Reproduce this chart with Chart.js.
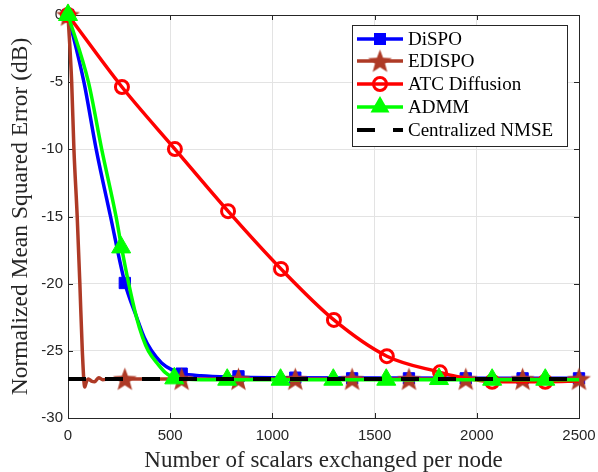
<!DOCTYPE html>
<html>
<head>
<meta charset="utf-8">
<script src="https://cdn.jsdelivr.net/npm/chart.js@4.4.0/dist/chart.umd.min.js"></script>
<style>
html, body { margin: 0; padding: 0; background: #fff; }
</style>
</head>
<body>
<canvas id="myChart" width="598" height="472"></canvas>
<script>
var series_names = ['DiSPO', 'EDISPO', 'ATC Diffusion', 'ADMM', 'Centralized NMSE'];

// DiSPO (blue, squares)
var dispo_x = [0, 78, 138, 208, 279, 336, 373, 409, 458, 507, 560, 650, 800, 1000, 2500];
var dispo_y = [0, -5, -10, -15, -20, -22.5, -24, -25, -25.9, -26.4, -26.7, -26.85, -26.95, -27.0, -27.05];
var dispo_mark_x = [0, 278, 556, 834, 1112, 1390, 1668, 1946, 2224, 2500];
var dispo_mark_y = [0, -19.95, -26.7, -26.9, -27.0, -27.05, -27.05, -27.05, -27.05, -27.05];

// EDISPO (brown, stars)
var edispo_x = [0, 18, 29, 45, 58, 70, 82, 90, 100, 115, 130, 150, 170, 200, 2500];
var edispo_y = [0, -5, -10, -15, -20, -25, -27.7, -27.3, -27.1, -27.25, -27.3, -27.0, -27.15, -27.1, -27.1];
var edispo_mark_x = [0, 278, 556, 834, 1112, 1390, 1668, 1946, 2224, 2500];
var edispo_mark_y = [0, -27.1, -27.1, -27.1, -27.1, -27.1, -27.1, -27.1, -27.1, -27.1];

// ATC Diffusion (red, circles)
var atc_x = [0, 264, 523, 783, 1042, 1301, 1560, 1820, 1900, 2075, 2335, 2500];
var atc_y = [0, -5.36, -9.98, -14.6, -18.9, -22.7, -25.4, -26.6, -26.9, -27.3, -27.3, -27.25];
var atc_mark_x = [0, 264, 523, 783, 1042, 1301, 1560, 1820, 2075, 2335];
var atc_mark_y = [0, -5.36, -9.98, -14.6, -18.9, -22.7, -25.4, -26.6, -27.3, -27.3];

// ADMM (green, triangles)
var admm_x = [0, 100, 165, 235, 262, 297, 335, 365, 393, 440, 475, 530, 650, 2500];
var admm_y = [0, -5, -10, -15, -17.3, -20, -22.5, -24, -25, -26, -26.6, -27.05, -27.15, -27.15];
var admm_mark_x = [0, 260, 520, 779, 1040, 1298, 1557, 1815, 2075, 2335];
var admm_mark_y = [0, -17.3, -27.05, -27.15, -27.15, -27.15, -27.15, -27.1, -27.15, -27.15];

// Centralized NMSE (black dashed)
var central_x = [0, 2500];
var central_y = [-27.1, -27.1];

var x_ticks = [0, 500, 1000, 1500, 2000, 2500];
var y_ticks = [0, -5, -10, -15, -20, -25, -30];

var c_blue = '#0000ff';
var c_brown = '#ae3a26';
var c_red = '#ff0000';
var c_green = '#00ff00';
var c_axis = '#262626';

function pts(xs, ys) {
    var out = [];
    for (let i = 0; i < xs.length; i++) {
        out.push({ x: xs[i], y: ys[i] });
    }
    return out;
}

function make_star(r, color) {
    var c = document.createElement('canvas');
    var s = Math.ceil(r * 2 + 2);
    c.width = s;
    c.height = s;
    var g = c.getContext('2d');
    g.beginPath();
    for (let i = 0; i < 10; i++) {
        let rr = i % 2 == 0 ? r : r * 0.42;
        let a = -Math.PI / 2 + i * Math.PI / 5;
        let px = s / 2 + rr * Math.cos(a);
        let py = s / 2 + 1 + rr * Math.sin(a);
        if (i == 0) g.moveTo(px, py); else g.lineTo(px, py);
    }
    g.closePath();
    g.fillStyle = color;
    g.fill();
    return c;
}
var star_img = make_star(12.5, c_brown);

function line_set(label, data, color, order) {
    return {
        label: label,
        data: data,
        borderColor: color,
        borderWidth: 3.5,
        pointRadius: 0,
        fill: false,
        cubicInterpolationMode: 'monotone',
        clip: false,
        order: order
    };
}
function mark_set(label, data, style, radius, color, fill, order) {
    return {
        label: label,
        data: data,
        showLine: false,
        pointStyle: style,
        pointRadius: radius,
        pointBorderWidth: fill ? 1 : 3,
        borderColor: color,
        backgroundColor: fill ? color : 'rgba(0,0,0,0)',
        clip: false,
        order: order
    };
}

// axes box with inward ticks, drawn under the data
var box_plugin = {
    id: 'box',
    beforeDatasetsDraw: function (chart) {
        var a = chart.chartArea, g = chart.ctx;
        var sx = chart.scales.x, sy = chart.scales.y;
        g.save();
        g.strokeStyle = c_axis;
        g.lineWidth = 1;
        g.strokeRect(Math.round(a.left) + 0.5, Math.round(a.top) + 0.5,
            Math.round(a.right - a.left), Math.round(a.bottom - a.top));
        g.beginPath();
        for (let v of x_ticks) {
            let px = Math.round(sx.getPixelForValue(v)) + 0.5;
            g.moveTo(px, a.bottom); g.lineTo(px, a.bottom - 5);
            g.moveTo(px, a.top); g.lineTo(px, a.top + 5);
        }
        for (let v of y_ticks) {
            let py = Math.round(sy.getPixelForValue(v)) + 0.5;
            g.moveTo(a.left, py); g.lineTo(a.left + 5, py);
            g.moveTo(a.right, py); g.lineTo(a.right - 5, py);
        }
        g.stroke();
        g.restore();
    }
};

var legend_plugin = {
    id: 'mlegend',
    afterDatasetsDraw: function (chart) {
        var g = chart.ctx;
        var bx = 352, by = 25, bw = 215, bh = 121;
        var rows = [39, 61, 84, 107, 130];
        var x0 = 357, x1 = 403, xm = 380;
        g.save();
        g.fillStyle = '#ffffff';
        g.fillRect(bx, by, bw, bh);
        g.strokeStyle = c_axis;
        g.lineWidth = 1;
        g.strokeRect(bx + 0.5, by + 0.5, bw, bh);
        g.lineWidth = 3.5;
        g.lineCap = 'butt';
        // DiSPO
        g.strokeStyle = c_blue;
        g.beginPath(); g.moveTo(x0, rows[0]); g.lineTo(x1, rows[0]); g.stroke();
        g.fillStyle = c_blue;
        g.fillRect(xm - 6, rows[0] - 6, 12, 12);
        // EDISPO
        g.strokeStyle = c_brown;
        g.beginPath(); g.moveTo(x0, rows[1]); g.lineTo(x1, rows[1]); g.stroke();
        g.drawImage(star_img, xm - star_img.width / 2, rows[1] - star_img.height / 2);
        // ATC
        g.strokeStyle = c_red;
        g.beginPath(); g.moveTo(x0, rows[2]); g.lineTo(x1, rows[2]); g.stroke();
        g.lineWidth = 3;
        g.beginPath(); g.arc(xm, rows[2], 6.5, 0, Math.PI * 2); g.stroke();
        // ADMM
        g.lineWidth = 3.5;
        g.strokeStyle = c_green;
        g.beginPath(); g.moveTo(x0, rows[3]); g.lineTo(x1, rows[3]); g.stroke();
        g.fillStyle = c_green;
        g.beginPath();
        g.moveTo(xm, rows[3] - 11);
        g.lineTo(xm + 9.5, rows[3] + 5.5);
        g.lineTo(xm - 9.5, rows[3] + 5.5);
        g.closePath(); g.fill();
        // Centralized
        g.strokeStyle = '#000000';
        g.lineWidth = 4;
        g.setLineDash([18, 18]);
        g.beginPath(); g.moveTo(x0, rows[4]); g.lineTo(x1, rows[4]); g.stroke();
        g.setLineDash([]);
        // text
        g.fillStyle = '#000000';
        g.font = '19px "Liberation Serif"';
        g.textBaseline = 'middle';
        g.textAlign = 'left';
        for (let i = 0; i < series_names.length; i++) {
            g.fillText(series_names[i], 408, rows[i] + 1);
        }
        g.restore();
    }
};

var ctx = document.getElementById('myChart');
var chart = new Chart(ctx, {
    type: 'line',
    data: {
        datasets: [
            {
                label: series_names[4],
                data: pts(central_x, central_y),
                borderColor: '#000000',
                borderWidth: 4,
                borderDash: [18, 19],
                pointRadius: 0,
                fill: false,
                clip: false,
                order: 0
            },
            mark_set(series_names[3], pts(admm_mark_x, admm_mark_y), 'triangle', 11, c_green, true, 1),
            line_set(series_names[3], pts(admm_x, admm_y), c_green, 2),
            mark_set(series_names[2], pts(atc_mark_x, atc_mark_y), 'circle', 6.5, c_red, false, 3),
            line_set(series_names[2], pts(atc_x, atc_y), c_red, 4),
            mark_set(series_names[1], pts(edispo_mark_x, edispo_mark_y), star_img, 12, c_brown, true, 5),
            line_set(series_names[1], pts(edispo_x, edispo_y), c_brown, 6),
            mark_set(series_names[0], pts(dispo_mark_x, dispo_mark_y), 'rect', 8, c_blue, true, 7),
            line_set(series_names[0], pts(dispo_x, dispo_y), c_blue, 8)
        ]
    },
    options: {
        responsive: false,
        animation: false,
        layout: { padding: { top: 15, right: 19, left: 0, bottom: 0 } },
        plugins: {
            legend: { display: false },
            tooltip: { enabled: false }
        },
        scales: {
            x: {
                type: 'linear',
                min: 0,
                max: 2500,
                afterBuildTicks: function (s) { s.ticks = x_ticks.map(function (v) { return { value: v }; }); },
                afterFit: function (s) { s.height = 54; s.paddingLeft = 0; s.paddingRight = 0; },
                ticks: {
                    autoSkip: false,
                    maxRotation: 0,
                    padding: 9,
                    color: c_axis,
                    font: { family: 'Liberation Sans', size: 15 },
                    callback: function (v) { return String(v); }
                },
                grid: { color: '#e3e3e3', lineWidth: 1, drawTicks: false },
                border: { display: false },
                title: {
                    display: true,
                    text: 'Number of scalars exchanged per node',
                    color: c_axis,
                    font: { family: 'Liberation Serif', size: 23, lineHeight: 1 },
                    padding: { top: 0, bottom: 0 }
                }
            },
            y: {
                type: 'linear',
                min: -30,
                max: 0,
                afterBuildTicks: function (s) { s.ticks = y_ticks.map(function (v) { return { value: v }; }); },
                afterFit: function (s) { s.width = 68; s.paddingTop = 0; s.paddingBottom = 0; },
                ticks: {
                    autoSkip: false,
                    padding: 5,
                    color: c_axis,
                    font: { family: 'Liberation Sans', size: 15 },
                    callback: function (v) { return String(v); }
                },
                grid: { color: '#e3e3e3', lineWidth: 1, drawTicks: false },
                border: { display: false },
                title: {
                    display: true,
                    text: 'Normalized Mean Squared Error (dB)',
                    color: c_axis,
                    font: { family: 'Liberation Serif', size: 23.5, lineHeight: 1 },
                    padding: { top: 9, bottom: 0 }
                }
            }
        }
    },
    plugins: [box_plugin, legend_plugin]
});
</script>
</body>
</html>
